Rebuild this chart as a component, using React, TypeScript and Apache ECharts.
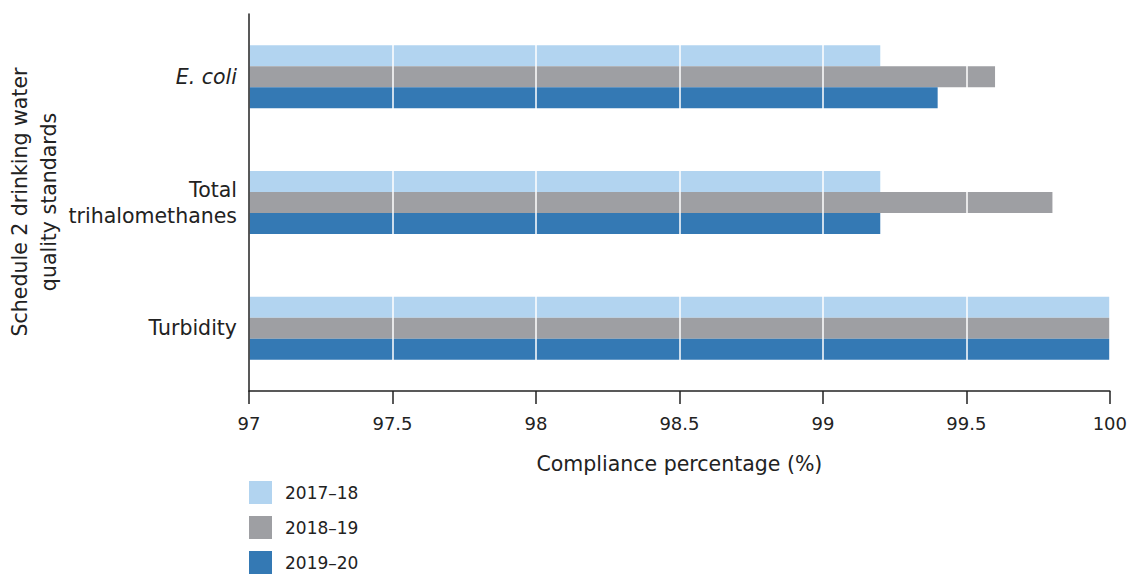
import React, { useEffect, useRef } from "react";
import * as echarts from "echarts";

const categories = ["E. coli", "Total\ntrihalomethanes", "Turbidity"];
const seriesNames = ["2017–18", "2018–19", "2019–20"];
const values2017 = [99.2, 99.2, 100];
const values2018 = [99.6, 99.8, 100];
const values2019 = [99.4, 99.2, 100];
const colors = ["#b2d4f0", "#9e9fa3", "#3479b4"];
const FONT = "DejaVu Sans";
const TEXT_FS = 20.5;
const TICK_FS = 18;
const LEGEND_FS = 17;
const INK = "#222";

export default function App() {
  const ref = useRef<HTMLDivElement>(null);
  useEffect(() => {
    if (!ref.current) return;
    const chart = echarts.init(ref.current, undefined, { renderer: "svg" });
    const data = [values2017, values2018, values2019];
    chart.setOption({
      animation: false,
      textStyle: { fontFamily: FONT },
      grid: { left: 249, right: 20, top: 14, bottom: 185 },
      legend: {
        orient: "vertical",
        left: 249,
        top: 481,
        padding: 0,
        itemWidth: 23,
        itemHeight: 23,
        itemGap: 12,
        icon: "rect",
        data: seriesNames,
        textStyle: { fontSize: LEGEND_FS, color: INK, fontFamily: FONT, padding: [0, 0, 0, 8] },
      },
      xAxis: {
        type: "value",
        min: 97,
        max: 100,
        interval: 0.5,
        z: 10,
        name: "Compliance percentage (%)",
        nameLocation: "middle",
        nameGap: 62,
        nameTextStyle: { fontSize: TEXT_FS, color: INK, fontFamily: FONT },
        axisLine: { show: true, lineStyle: { color: INK, width: 1.5 } },
        axisTick: { show: true, length: 13, lineStyle: { color: INK, width: 1.5 } },
        axisLabel: { fontSize: TICK_FS, color: INK, margin: 23, fontFamily: FONT },
        splitLine: { show: true, lineStyle: { color: "#ffffff", width: 1.5 } },
      },
      yAxis: {
        type: "category",
        data: categories,
        inverse: true,
        z: 10,
        axisLine: { show: true, lineStyle: { color: INK, width: 1.5 } },
        axisTick: { show: false },
        axisLabel: {
          fontSize: TEXT_FS,
          color: INK,
          margin: 12,
          lineHeight: 26,
          fontFamily: FONT,
          formatter: (v: string) => (v === "E. coli" ? "{i|E. coli}" : v),
          rich: { i: { fontStyle: "italic", fontSize: TEXT_FS, color: INK, fontFamily: FONT } },
        },
        splitLine: { show: false },
      },
      graphic: [
        {
          type: "text",
          x: 34,
          y: 202,
          rotation: Math.PI / 2,
          style: {
            text: "Schedule 2 drinking water\nquality standards",
            font: `${TEXT_FS}px ${FONT}`,
            fill: INK,
            align: "center",
            verticalAlign: "middle",
            lineHeight: 29,
          },
        },
      ],
      series: seriesNames.map((name, i) => ({
        name,
        type: "bar",
        data: data[i],
        barWidth: 21,
        barGap: "0%",
        itemStyle: { color: colors[i] },
      })),
    });
    return () => chart.dispose();
  }, []);
  return (
    <div
      ref={ref}
      style={{ position: "fixed", left: 0, top: 0, width: 1130, height: 576, background: "#fff" }}
    />
  );
}
